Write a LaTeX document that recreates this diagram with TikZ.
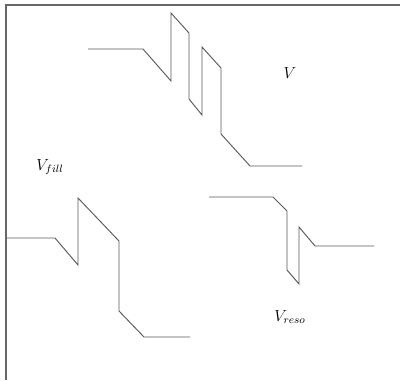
\documentclass[tikz,border=0pt]{standalone}
\begin{document}
\begin{tikzpicture}[x=0.75pt,y=-0.75pt,
  frame/.style={draw=black!60,line width=1.5pt},
  wave/.style={draw=black!65,line width=0.7pt,line join=miter},
  lbl/.style={font=\fontsize{12}{14}\selectfont,inner sep=0pt}]
\useasboundingbox (0,0) rectangle (400,380);
\fill[white] (0,0) rectangle (400,380);
\draw[frame] (5.7,380) -- (5.7,5.3) -- (400,5.3);
% V
\draw[wave] (88,49) -- (143,49) -- (171,81) -- (171,13) -- (189,33) -- (189,99)
  -- (202,115) -- (202,47) -- (221,68) -- (221,134) -- (250,166) -- (302,166);
\node[lbl] (v) at (290,73) {$V$};
% V_fill
\draw[wave] (7,238) -- (55,238) -- (78,265) -- (78,198) -- (119,241) -- (119,311)
  -- (144,337) -- (190,337);
\node[lbl] (vfill) at (50,167) {$V_{fill}$};
% V_reso
\draw[wave] (209,197) -- (273,197) -- (287,211) -- (287,270) -- (299,284) -- (299,227)
  -- (315,246) -- (374,246);
\node[lbl] (vreso) at (290,317) {$V_{reso}$};
\end{tikzpicture}
\end{document}
